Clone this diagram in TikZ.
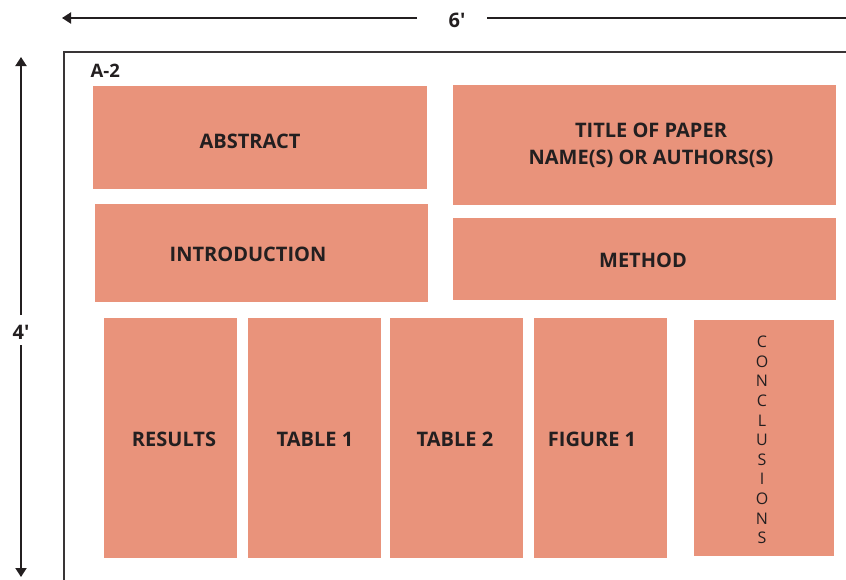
\documentclass[tikz,border=0pt]{standalone}
\usepackage{fontspec}
\setmainfont{Open Sans}
\usetikzlibrary{arrows.meta}
\definecolor{boxc}{HTML}{E9937B}
\definecolor{ink}{HTML}{231F20}
\tikzset{
  panel/.style={fill=boxc, draw=none},
  lbl/.style={font=\fontsize{20}{27}\selectfont\bfseries, text=ink, align=center},
  dim/.style={line width=2pt, draw=ink},
}
\begin{document}
\begin{tikzpicture}[x=1pt,y=-1pt]
\useasboundingbox (0,0) rectangle (846,579);
% dimension arrows
\coordinate (hl) at (62,18);
\coordinate (hm1) at (417,18);
\coordinate (hm2) at (487,18);
\coordinate (hr) at (846,18);
\node[lbl] (six) at (457,20) {6\textquotesingle};
\draw[dim,-{Triangle[length=9pt,width=11pt]}] (hm1) -- (hl);
\draw[dim] (hm2) -- (hr);
\coordinate (vt) at (21,57);
\coordinate (vm1) at (21,315);
\coordinate (vm2) at (21,345);
\coordinate (vb) at (21,577);
\node[lbl] (four) at (21,332) {4\textquotesingle};
\draw[dim,-{Triangle[length=9pt,width=11pt]}] (vm1) -- (vt);
\draw[dim,-{Triangle[length=9pt,width=11pt]}] (vm2) -- (vb);
% frame
\coordinate (f1) at (64,580);
\coordinate (f2) at (64,52);
\coordinate (f3) at (847,52);
\draw[line width=2.2pt, draw=ink!90] (f1) -- (f2) -- (f3);
\node[lbl, anchor=west, font=\fontsize{18.5}{20}\selectfont\bfseries] (a2) at (87,71) {A-2};
% panels
\path[panel] (93,86) rectangle (427,189);
\node[lbl] (abs) at (250,141) {ABSTRACT};
\path[panel] (453,85) rectangle (836,205);
\node[lbl] (title) at (651,145) {TITLE OF PAPER\\NAME(S) OR AUTHORS(S)};
\path[panel] (95,204) rectangle (428,302);
\node[lbl] (intro) at (248,254) {INTRODUCTION};
\path[panel] (453,218) rectangle (836,300);
\node[lbl] (meth) at (643,260) {METHOD};
\path[panel] (104,318) rectangle (237,558);
\node[lbl] (res) at (174,439) {RESULTS};
\path[panel] (248,318) rectangle (381,558);
\node[lbl] (t1) at (315,439) {TABLE 1};
\path[panel] (390,318) rectangle (523,558);
\node[lbl] (t2) at (455,439) {TABLE 2};
\path[panel] (534,318) rectangle (667,558);
\node[lbl] (f1n) at (592,439) {FIGURE 1};
\path[panel] (694,320) rectangle (834,556);
\node[font=\fontsize{16}{19.6}\selectfont, text=ink, align=center] (conc) at (762,440) {C\\O\\N\\C\\L\\U\\S\\I\\O\\N\\S};
\end{tikzpicture}
\end{document}
